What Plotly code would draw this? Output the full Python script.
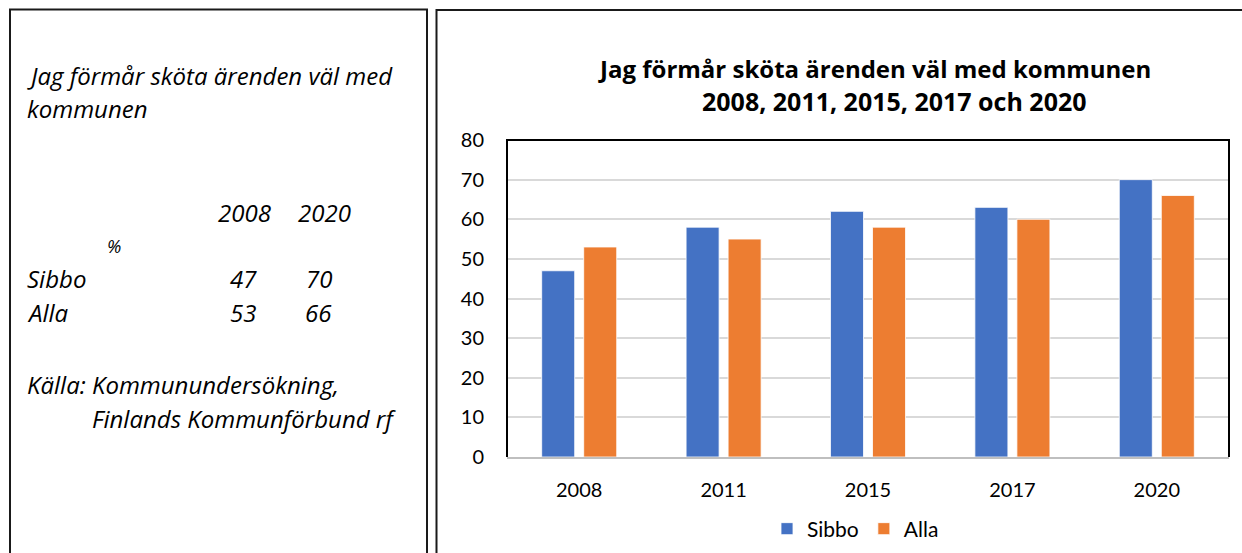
import plotly.graph_objects as go

W, H = 1242, 553

# ---- data ----
years = ["2008", "2011", "2015", "2017", "2020"]
sibbo = [47, 58, 62, 63, 70]
alla = [53, 55, 58, 60, 66]

table_years = ["2008", "2020"]
table_sibbo = [47, 70]
table_alla = [53, 66]

yticks = [0, 10, 20, 30, 40, 50, 60, 70, 80]

BLUE = "#4472C4"
ORANGE = "#ED7D31"


def px(x):
    return x / W


def py(y):
    return 1 - y / H


# plot area in pixels
PL, PR, PT, PB = 507, 1229, 140, 457

fig = go.Figure()
fig.add_trace(go.Bar(x=years, y=sibbo, name="Sibbo", marker=dict(color=BLUE, line=dict(color="white", width=0.8))))
fig.add_trace(go.Bar(x=years, y=alla, name="Alla", marker=dict(color=ORANGE, line=dict(color="white", width=0.8))))

chart_font = "Lato, 'Open Sans', sans-serif"
title_font = "'Open Sans', 'Noto Sans', sans-serif"
text_font = "'Open Sans', 'Noto Sans', sans-serif"

fig.update_layout(
    template="none",
    width=W, height=H,
    margin=dict(l=0, r=0, t=0, b=0, pad=0, autoexpand=False),
    paper_bgcolor="white", plot_bgcolor="white",
    barmode="group", bargap=0.418, bargroupgap=0.214,
    showlegend=True,
    legend=dict(orientation="h", x=px(767), xanchor="left", y=py(529), yanchor="middle",
                font=dict(family=chart_font, size=21, color="#000000"),
                itemwidth=30, traceorder="normal", bgcolor="rgba(0,0,0,0)", borderwidth=0),
    xaxis=dict(type="category", domain=[px(PL), px(PR)], showgrid=False, zeroline=False, automargin=False,
               showline=True, linecolor="#bfbfbf", linewidth=2,
               tickfont=dict(family=chart_font, size=20, color="#000000"),
               ticks="", ticklabelstandoff=14, fixedrange=True),
    yaxis=dict(domain=[py(PB), py(PT)], range=[0, 80], tickvals=yticks, automargin=False,
               showgrid=True, gridcolor="#d9d9d9", gridwidth=2, zeroline=False,
               showline=False,
               tickfont=dict(family=chart_font, size=20, color="#000000"),
               ticks="", ticklabelstandoff=22, fixedrange=True),
)

shapes = []
# outer boxes
shapes.append(dict(type="rect", xref="paper", yref="paper",
                   x0=px(10), x1=px(427), y0=py(560), y1=py(9.5),
                   line=dict(color="#1a1a1a", width=2)))
shapes.append(dict(type="rect", xref="paper", yref="paper",
                   x0=px(436.5), x1=px(1250), y0=py(560), y1=py(10),
                   line=dict(color="#1a1a1a", width=2)))
# plot frame (left, top, right) in black
shapes.append(dict(type="path", xref="paper", yref="paper",
                   path=f"M{px(PL)},{py(PB)} L{px(PL)},{py(PT)} L{px(PR)},{py(PT)} L{px(PR)},{py(PB)}",
                   line=dict(color="#000000", width=2)))
fig.update_layout(shapes=shapes)

ann = []
# chart title (two lines)
ann.append(dict(text="<b>Jag förmår sköta ärenden väl med kommunen</b>", x=px(874), y=py(69),
                xref="paper", yref="paper", xanchor="center", yanchor="middle", showarrow=False,
                font=dict(family=title_font, size=24, color="#000000")))
ann.append(dict(text="<b>2008, 2011, 2015, 2017 och 2020</b>", x=px(894), y=py(101),
                xref="paper", yref="paper", xanchor="center", yanchor="middle", showarrow=False,
                font=dict(family=title_font, size=25, color="#000000")))

# left text box
def left_text(t, x, y, anchor="left", size=24):
    ann.append(dict(text=f"<i>{t}</i>", x=px(x), y=py(y), xref="paper", yref="paper",
                    xanchor=anchor, yanchor="middle", showarrow=False, borderpad=0,
                    font=dict(family=text_font, size=size, color="#000000")))

left_text("Jag förmår sköta ärenden väl med", 26, 75)
left_text("kommunen", 26, 108)
hdr_x = [245, 324]
num_x = [243, 319]
for yr, hx in zip(table_years, hdr_x):
    left_text(yr, hx, 213, "center")
left_text("%", 114, 246, "center", size=18)
left_text("Sibbo", 26, 278)
for v, nx in zip(table_sibbo, num_x):
    left_text(str(v), nx, 278, "center")
left_text("Alla", 26, 312)
for v, nx in zip(table_alla, num_x):
    left_text(str(v), nx, 312, "center")
left_text("Källa: Kommunundersökning,", 26, 384)
left_text("Finlands Kommunförbund rf", 91, 418)

fig.update_layout(annotations=ann)

fig.write_html("out.html", config=dict(displayModeBar=False),
               post_script="document.body.style.margin='0';document.body.style.overflow='hidden';")
